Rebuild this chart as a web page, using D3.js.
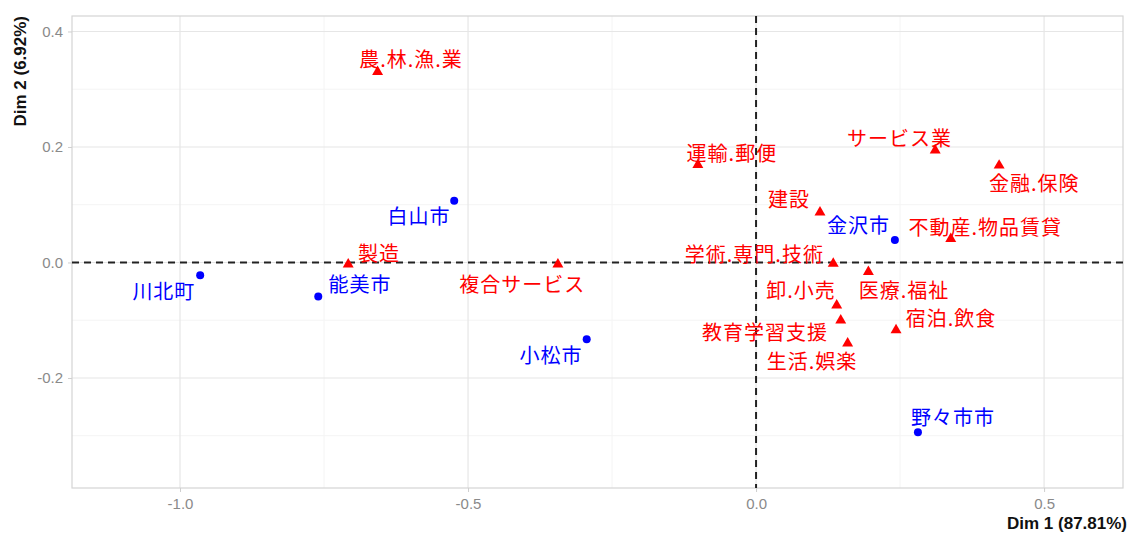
<!DOCTYPE html>
<html>
<head>
<meta charset="utf-8">
<script src="https://cdn.jsdelivr.net/npm/d3@7"></script>
<style>
  html, body { margin: 0; padding: 0; background: #fff; }
  svg { display: block; }
  .tick text { font-family: "Liberation Sans", Arial, sans-serif; }
</style>
</head>
<body>
<svg id="chart" width="1129" height="535"></svg>
<script>
// Correspondence analysis biplot: municipalities (rows) and industries (columns)
const rowNames = ["川北町", "能美市", "白山市", "小松市", "金沢市", "野々市市"];
const rowDim1  = [-0.965, -0.760, -0.524, -0.294, 0.241, 0.281];
const rowDim2  = [-0.022, -0.059, 0.107, -0.133, 0.039, -0.294];
// repelled label anchors (data units)
const rowLabelDim1 = [-1.028, -0.6875, -0.585, -0.356, 0.178, 0.342];
const rowLabelDim2 = [-0.049, -0.037, 0.0805, -0.159, 0.065, -0.2675];

const colNames = ["農.林.漁.業", "製造", "複合サービス", "運輸.郵便", "建設", "サービス業",
                  "金融.保険", "不動産.物品賃貸", "学術.専門.技術", "医療.福祉", "卸.小売",
                  "教育学習支援", "宿泊.飲食", "生活.娯楽"];
const colDim1  = [-0.657, -0.708, -0.344, -0.101, 0.111, 0.311,
                  0.422, 0.338, 0.134, 0.195, 0.140,
                  0.147, 0.243, 0.159];
const colDim2  = [0.330, -0.003, -0.003, 0.169, 0.087, 0.194,
                  0.168, 0.041, -0.002, -0.016, -0.074,
                  -0.100, -0.117, -0.140];
const colLabelDim1 = [-0.599, -0.6545, -0.406, -0.042, 0.057, 0.249,
                      0.483, 0.398, -0.003, 0.257, 0.078,
                      0.0156, 0.3385, 0.097];
const colLabelDim2 = [0.353, 0.018, -0.037, 0.191, 0.110, 0.2165,
                      0.138, 0.063, 0.015, -0.046, -0.046,
                      -0.120, -0.096, -0.169];

const xTicks = [-1.0, -0.5, 0.0, 0.5];
const yTicks = [0.4, 0.2, 0.0, -0.2];
const xMinor = [-0.75, -0.25, 0.25];
const yMinor = [0.3, 0.1, -0.1, -0.3];
const xTitle = "Dim 1 (87.81%)";
const yTitle = "Dim 2 (6.92%)";

const svg = d3.select("#chart");
const panel = { left: 72, top: 16, right: 1123, bottom: 488 };

const x = d3.scaleLinear().domain([-1.1875, 0.637]).range([panel.left, panel.right]);
const y = d3.scaleLinear().domain([-0.3905, 0.4268]).range([panel.bottom, panel.top]);

// plain hyphen-minus in tick labels
const fmt = d => d.toFixed(1);
const g = svg.append("g");

// minor grid
g.selectAll(".vminor").data(xMinor).join("line")
  .attr("x1", d => x(d)).attr("x2", d => x(d))
  .attr("y1", panel.top).attr("y2", panel.bottom)
  .attr("stroke", "#f4f4f4").attr("stroke-width", 1);
g.selectAll(".hminor").data(yMinor).join("line")
  .attr("y1", d => y(d)).attr("y2", d => y(d))
  .attr("x1", panel.left).attr("x2", panel.right)
  .attr("stroke", "#f4f4f4").attr("stroke-width", 1);

// major grid
g.selectAll(".vmajor").data(xTicks).join("line")
  .attr("x1", d => x(d)).attr("x2", d => x(d))
  .attr("y1", panel.top).attr("y2", panel.bottom)
  .attr("stroke", "#e6e6e6").attr("stroke-width", 1.2);
g.selectAll(".hmajor").data(yTicks).join("line")
  .attr("y1", d => y(d)).attr("y2", d => y(d))
  .attr("x1", panel.left).attr("x2", panel.right)
  .attr("stroke", "#e6e6e6").attr("stroke-width", 1.2);

// panel border
g.append("rect")
  .attr("x", panel.left).attr("y", panel.top)
  .attr("width", panel.right - panel.left).attr("height", panel.bottom - panel.top)
  .attr("fill", "none").attr("stroke", "#d4d4d4").attr("stroke-width", 1.2);

// axes
const xAxis = d3.axisBottom(x).tickValues(xTicks).tickFormat(fmt).tickSize(4).tickPadding(6);
const yAxis = d3.axisLeft(y).tickValues(yTicks).tickFormat(fmt).tickSize(4).tickPadding(5);

const gx = svg.append("g").attr("transform", `translate(0,${panel.bottom})`).call(xAxis);
const gy = svg.append("g").attr("transform", `translate(${panel.left},0)`).call(yAxis);
[gx, gy].forEach(a => {
  a.select(".domain").remove();
  a.selectAll(".tick line").attr("stroke", "#cfcfcf");
  a.selectAll(".tick text").attr("fill", "#8a8a8a").attr("font-size", 15);
});

// reference lines at origin
svg.append("line")
  .attr("x1", panel.left).attr("x2", panel.right)
  .attr("y1", y(0)).attr("y2", y(0))
  .attr("stroke", "#222").attr("stroke-width", 2).attr("stroke-dasharray", "7,5");
svg.append("line")
  .attr("x1", x(0)).attr("x2", x(0))
  .attr("y1", panel.top).attr("y2", panel.bottom)
  .attr("stroke", "#222").attr("stroke-width", 2).attr("stroke-dasharray", "7,5");

const labelFont = '"Noto Sans CJK JP", "Noto Sans", sans-serif';

// row points (blue circles)
const rows = rowNames.map((n, i) => ({ n, d1: rowDim1[i], d2: rowDim2[i], l1: rowLabelDim1[i], l2: rowLabelDim2[i] }));
svg.selectAll(".rowpt").data(rows).join("circle")
  .attr("cx", d => x(d.d1)).attr("cy", d => y(d.d2)).attr("r", 4)
  .attr("fill", "#0000ff");
svg.selectAll(".rowlab").data(rows).join("text")
  .attr("x", d => x(d.l1)).attr("y", d => y(d.l2))
  .attr("text-anchor", "middle").attr("dominant-baseline", "central")
  .attr("font-family", labelFont).attr("font-size", 20).attr("letter-spacing", 1)
  .attr("fill", "#0000ff")
  .text(d => d.n);

// column points (red triangles)
const cols = colNames.map((n, i) => ({ n, d1: colDim1[i], d2: colDim2[i], l1: colLabelDim1[i], l2: colLabelDim2[i] }));
const tri = d3.symbol().type(d3.symbolTriangle).size(52);
svg.selectAll(".colpt").data(cols).join("path")
  .attr("transform", d => `translate(${x(d.d1)},${y(d.d2)})`)
  .attr("d", tri)
  .attr("fill", "#ff0000");
svg.selectAll(".collab").data(cols).join("text")
  .attr("x", d => x(d.l1)).attr("y", d => y(d.l2))
  .attr("text-anchor", "middle").attr("dominant-baseline", "central")
  .attr("font-family", labelFont).attr("font-size", 20).attr("letter-spacing", 1)
  .attr("fill", "#ff0000")
  .text(d => d.n);

// axis titles
svg.append("text")
  .attr("x", 1127).attr("y", 529)
  .attr("text-anchor", "end")
  .attr("font-family", '"Liberation Sans", Arial, sans-serif')
  .attr("font-weight", "bold").attr("font-size", 17)
  .attr("fill", "#111")
  .text(xTitle);
svg.append("text")
  .attr("transform", `translate(26,${panel.top}) rotate(-90)`)
  .attr("text-anchor", "end")
  .attr("font-family", '"Liberation Sans", Arial, sans-serif')
  .attr("font-weight", "bold").attr("font-size", 17)
  .attr("fill", "#111")
  .text(yTitle);
</script>
</body>
</html>
